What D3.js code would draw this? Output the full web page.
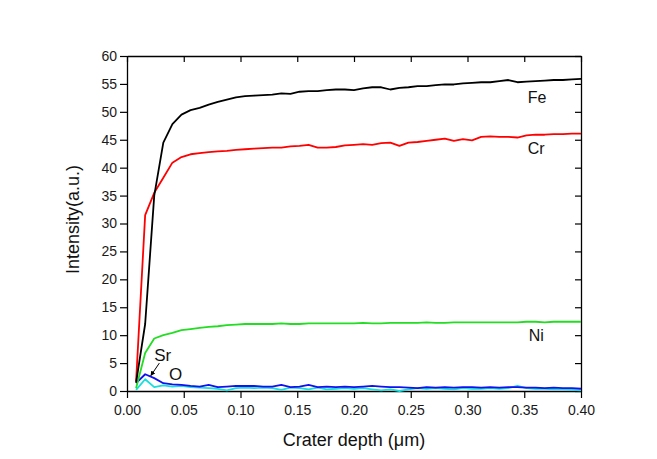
<!DOCTYPE html>
<html>
<head>
<meta charset="utf-8">
<script src="https://cdn.jsdelivr.net/npm/d3@7"></script>
<style>
    html, body { margin: 0; padding: 0; background: #ffffff; }
    svg { display: block; font-family: "Liberation Sans", Arial, sans-serif; }
</style>
</head>
<body>
<svg id="chart" width="657" height="459"></svg>
<script>

/* Data */
/* **** */

// Crater depth (um) of each sputter step
var depths = [
    0.008, 0.016, 0.024, 0.032, 0.040, 0.048, 0.056, 0.064, 0.072, 0.080,
    0.088, 0.096, 0.104, 0.112, 0.120, 0.128, 0.136, 0.144, 0.152, 0.160,
    0.168, 0.176, 0.184, 0.192, 0.200, 0.208, 0.216, 0.224, 0.232, 0.240,
    0.248, 0.256, 0.264, 0.272, 0.280, 0.288, 0.296, 0.304, 0.312, 0.320,
    0.328, 0.336, 0.344, 0.352, 0.360, 0.368, 0.376, 0.384, 0.392, 0.400
];

var feValues = [
    1.5, 12.0, 35.0, 44.5, 47.8, 49.5, 50.3, 50.7, 51.3, 51.8,
    52.2, 52.6, 52.8, 52.9, 53.0, 53.1, 53.3, 53.2, 53.6, 53.7,
    53.7, 53.9, 54.0, 54.0, 53.9, 54.2, 54.4, 54.4, 54.0, 54.3,
    54.4, 54.6, 54.6, 54.8, 54.9, 54.9, 55.1, 55.2, 55.3, 55.3,
    55.5, 55.7, 55.3, 55.4, 55.5, 55.6, 55.7, 55.7, 55.8, 55.9
];

var crValues = [
    1.7, 31.5, 35.5, 38.2, 40.9, 41.9, 42.4, 42.6, 42.8, 42.9,
    43.0, 43.2, 43.3, 43.4, 43.5, 43.6, 43.6, 43.8, 43.9, 44.1,
    43.6, 43.6, 43.7, 44.0, 44.1, 44.2, 44.1, 44.4, 44.5, 43.9,
    44.5, 44.6, 44.8, 45.0, 45.2, 44.8, 45.1, 44.9, 45.5, 45.6,
    45.5, 45.5, 45.4, 45.8, 45.9, 45.9, 46.0, 46.0, 46.1, 46.1
];

var niValues = [
    0.5, 6.8, 9.4, 10.0, 10.4, 10.9, 11.1, 11.3, 11.5, 11.6,
    11.8, 11.9, 12.0, 12.0, 12.0, 12.0, 12.1, 12.0, 12.0, 12.1,
    12.1, 12.1, 12.1, 12.1, 12.1, 12.2, 12.1, 12.1, 12.2, 12.2,
    12.2, 12.2, 12.3, 12.2, 12.2, 12.3, 12.3, 12.3, 12.3, 12.3,
    12.3, 12.3, 12.3, 12.4, 12.4, 12.3, 12.4, 12.4, 12.4, 12.4
];

var srValues = [
    1.4, 3.0, 2.3, 1.4, 1.2, 1.1, 0.9, 0.8, 1.1, 0.7,
    0.8, 0.9, 0.9, 0.9, 0.8, 0.8, 1.1, 0.7, 0.8, 1.1,
    0.7, 0.8, 0.7, 0.8, 0.7, 0.8, 0.9, 0.8, 0.7, 0.7,
    0.6, 0.5, 0.7, 0.6, 0.7, 0.6, 0.7, 0.7, 0.6, 0.7,
    0.6, 0.7, 0.7, 0.6, 0.6, 0.5, 0.6, 0.5, 0.5, 0.4
];

var oValues = [
    0.2, 2.1, 0.7, 1.0, 0.8, 0.9, 0.7, 0.6, 0.5, 0.4,
    0.1, 0.5, 0.6, 0.5, 0.6, 0.5, 0.2, 0.6, 0.5, 0.3,
    0.6, 0.3, 0.4, 0.5, 0.4, 0.5, 0.3, 0.1, 0.3, 0.0,
    0.3, 0.5, 0.4, 0.5, 0.4, 0.3, 0.5, 0.4, 0.4, 0.5,
    0.4, 0.5, 0.9, 0.5, 0.4, 0.4, 0.3, 0.3, 0.2, 0.1
];

var xTicks = [0, 0.05, 0.10, 0.15, 0.20, 0.25, 0.30, 0.35, 0.40];
var yTicks = [0, 5, 10, 15, 20, 25, 30, 35, 40, 45, 50, 55, 60];

var elements = ['Fe', 'Cr', 'Ni', 'Sr', 'O'];


/* Setup */
/* ***** */
var svg = d3.select('#chart');

var plot = { left: 127, right: 581, top: 56, bottom: 391 };

var x = d3.scaleLinear().domain([0, 0.4]).range([plot.left, plot.right]);
var y = d3.scaleLinear().domain([0, 60]).range([plot.bottom, plot.top]);

var series = [
    { name: 'O',  values: oValues,  color: '#19dede' },
    { name: 'Sr', values: srValues, color: '#1010f0' },
    { name: 'Ni', values: niValues, color: '#22dd22' },
    { name: 'Cr', values: crValues, color: '#ff0000' },
    { name: 'Fe', values: feValues, color: '#000000' }
];

var line = d3.line()
    .x(function (d, i) { return x(depths[i]); })
    .y(function (d) { return y(d); });


/* Axes */
/* **** */
var styleAxis = function (g) {
    g.select('.domain').attr('stroke', '#000').attr('stroke-width', 1.3);
    g.selectAll('.tick line').attr('stroke', '#000').attr('stroke-width', 1.2);
    g.selectAll('.tick text')
        .attr('fill', '#1a1a1a')
        .style('font-size', '14px')
        .style('font-family', '"Liberation Sans", Arial, sans-serif');
};

svg.append('g')
    .attr('transform', 'translate(0,' + plot.bottom + ')')
    .call(d3.axisBottom(x).tickValues(xTicks).tickSize(7).tickPadding(7).tickSizeOuter(0)
        .tickFormat(d3.format('.2f')))
    .call(styleAxis);

svg.append('g')
    .attr('transform', 'translate(' + plot.left + ',0)')
    .call(d3.axisLeft(y).tickValues(yTicks).tickSize(7).tickPadding(3).tickSizeOuter(0))
    .call(styleAxis);

svg.append('g')
    .attr('transform', 'translate(0,' + plot.top + ')')
    .call(d3.axisBottom(x).tickValues(xTicks).tickSize(6).tickSizeOuter(0).tickFormat(''))
    .call(styleAxis);

svg.append('g')
    .attr('transform', 'translate(' + plot.right + ',0)')
    .call(d3.axisLeft(y).tickValues(yTicks).tickSize(6).tickSizeOuter(0).tickFormat(''))
    .call(styleAxis);


/* Lines */
/* ***** */
svg.append('g')
    .attr('class', 'lines')
    .selectAll('path')
    .data(series)
    .enter()
    .append('path')
    .attr('d', function (d) { return line(d.values); })
    .attr('fill', 'none')
    .attr('stroke', function (d) { return d.color; })
    .attr('stroke-width', 1.8)
    .attr('stroke-linejoin', 'round');


/* Labels */
/* ****** */
var labelPos = {
    Fe: [0.353, 51.6, 16],
    Cr: [0.353, 42.5, 16],
    Ni: [0.354, 9.0, 16],
    Sr: [0.024, 5.4, 17],
    O:  [0.037, 2.0, 17]
};

svg.append('g')
    .selectAll('text')
    .data(elements)
    .enter()
    .append('text')
    .attr('x', function (d) { return x(labelPos[d][0]); })
    .attr('y', function (d) { return y(labelPos[d][1]); })
    .style('font-size', function (d) { return labelPos[d][2] + 'px'; })
    .attr('fill', '#111')
    .text(function (d) { return d; });

// Arrow from the Sr label down to its peak
var defs = svg.append('defs');
defs.append('marker')
    .attr('id', 'head')
    .attr('viewBox', '0 0 10 10')
    .attr('refX', 9).attr('refY', 5)
    .attr('markerWidth', 5).attr('markerHeight', 5)
    .attr('orient', 'auto')
    .append('path')
    .attr('d', 'M0,0L10,5L0,10z')
    .attr('fill', '#000');

svg.append('line')
    .attr('x1', x(0.0285)).attr('y1', y(5.0))
    .attr('x2', x(0.021)).attr('y2', y(2.75))
    .attr('stroke', '#000')
    .attr('stroke-width', 1)
    .attr('marker-end', 'url(#head)');


/* Axis titles */
/* *********** */
svg.append('text')
    .attr('x', (plot.left + plot.right) / 2)
    .attr('y', 446)
    .attr('text-anchor', 'middle')
    .style('font-size', '18px')
    .attr('fill', '#111')
    .text('Crater depth (\u03bcm)');

svg.append('text')
    .attr('transform', 'translate(79,' + ((plot.top + plot.bottom) / 2 - 4) + ') rotate(-90)')
    .attr('text-anchor', 'middle')
    .style('font-size', '18px')
    .attr('fill', '#111')
    .text('Intensity(a.u.)');

</script>
</body>
</html>
